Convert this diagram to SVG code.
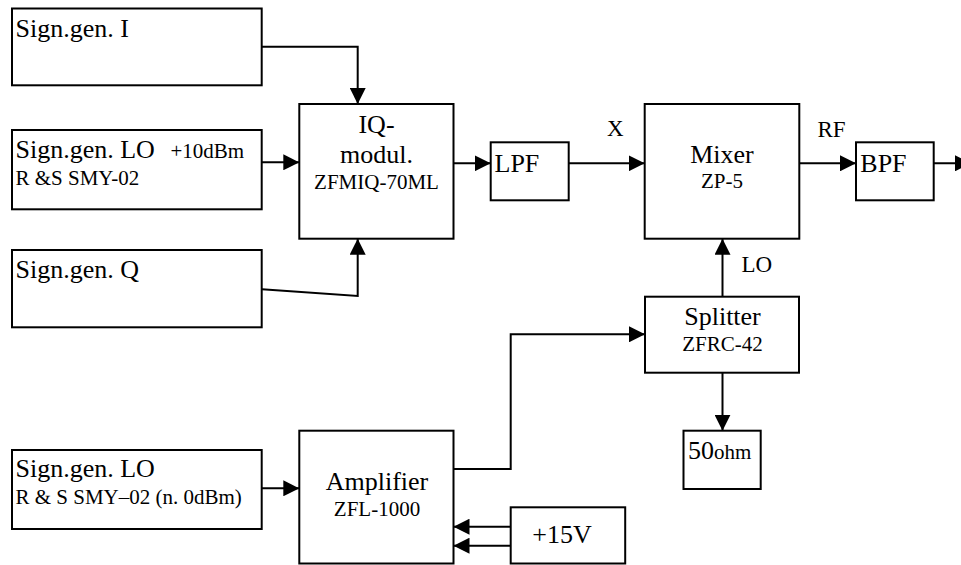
<svg xmlns="http://www.w3.org/2000/svg" width="961" height="565" viewBox="0 0 961 565" font-family="'Liberation Serif', 'DejaVu Serif', serif">
<style>
  .box { fill: #ffffff; stroke: #000000; stroke-width: 2; }
  text { font-family: 'Liberation Serif', 'DejaVu Serif', serif; fill: #000; }
  .big { font-size: 26px; }
  .sm { font-size: 21px; }
  .lbl { font-size: 23px; }
  .c { text-anchor: middle; }
  .wire { fill: none; stroke: #000; stroke-width: 2; }
</style>
<defs>
  <marker id="arr" markerUnits="userSpaceOnUse" markerWidth="16" markerHeight="16" viewBox="0 0 16 16" refX="16" refY="8" orient="auto">
    <path d="M0,0 L16,8 L0,16 z" fill="#000"/>
  </marker>
</defs>
<rect width="961" height="565" fill="#ffffff"/>

<g id="connectors">
  <polyline class="wire" points="262,46.7 357.7,46.7 357.7,104" marker-end="url(#arr)"/>
  <line class="wire" x1="262" y1="162.3" x2="299.3" y2="162.3" marker-end="url(#arr)"/>
  <polyline class="wire" points="262,289.3 357.7,296 357.7,238.7" marker-end="url(#arr)"/>
  <line class="wire" x1="453.5" y1="163.3" x2="490.7" y2="163.3" marker-end="url(#arr)"/>
  <line class="wire" x1="568.7" y1="163.3" x2="644.7" y2="163.3" marker-end="url(#arr)"/>
  <line class="wire" x1="799.3" y1="163.3" x2="856" y2="163.3" marker-end="url(#arr)"/>
  <line class="wire" x1="933.7" y1="163.3" x2="971" y2="163.3" marker-end="url(#arr)"/>
  <line class="wire" x1="722.5" y1="296.7" x2="722.5" y2="238.7" marker-end="url(#arr)"/>
  <line class="wire" x1="722.5" y1="372.7" x2="722.5" y2="430.7" marker-end="url(#arr)"/>
  <polyline class="wire" points="453.5,469 510.7,469 510.7,334.3 645,334.3" marker-end="url(#arr)"/>
  <line class="wire" x1="262" y1="488.3" x2="299.3" y2="488.3" marker-end="url(#arr)"/>
  <line class="wire" x1="510.7" y1="526.7" x2="453.5" y2="526.7" marker-end="url(#arr)"/>
  <line class="wire" x1="510.7" y1="545.7" x2="453.5" y2="545.7" marker-end="url(#arr)"/>
  <text class="lbl" x="607" y="136">X</text>
  <text class="lbl" x="817.5" y="136.5">RF</text>
  <text class="lbl" x="741.5" y="271.5">LO</text>
</g>

<g id="siggen-i">
  <rect class="box" x="12" y="8.5" width="249.7" height="76.8"/>
  <text class="big" x="15.5" y="36.7">Sign.gen. I</text>
</g>

<g id="siggen-lo">
  <rect class="box" x="12" y="130" width="249.7" height="79.3"/>
  <text class="big" x="15.5" y="158.3">Sign.gen. LO</text>
  <text class="sm" x="170.5" y="158">+10dBm</text>
  <text class="sm" x="15.5" y="185">R &amp;S SMY-02</text>
</g>

<g id="siggen-q">
  <rect class="box" x="12" y="250" width="249.7" height="77.3"/>
  <text class="big" x="15.5" y="278.3">Sign.gen. Q</text>
</g>

<g id="iq-modulator">
  <rect class="box" x="299.3" y="104" width="154.2" height="134.7"/>
  <text class="big c" x="376.5" y="132.7">IQ-</text>
  <text class="big c" x="376.5" y="163.3">modul.</text>
  <text class="sm c" x="376.5" y="189.3">ZFMIQ-70ML</text>
</g>

<g id="lpf">
  <rect class="box" x="490.7" y="142.3" width="78" height="58"/>
  <text class="big" x="494.5" y="172.3">LPF</text>
</g>

<g id="mixer">
  <rect class="box" x="644.7" y="104" width="154.6" height="134.7"/>
  <text class="big c" x="722" y="163.3">Mixer</text>
  <text class="sm c" x="722" y="188.3">ZP-5</text>
</g>

<g id="bpf">
  <rect class="box" x="856" y="142.3" width="77.7" height="58"/>
  <text class="big" x="860.3" y="172.3">BPF</text>
</g>

<g id="splitter">
  <rect class="box" x="645" y="296.7" width="154" height="76"/>
  <text class="big c" x="722.5" y="325">Splitter</text>
  <text class="sm c" x="722.5" y="351">ZFRC-42</text>
</g>

<g id="load-50ohm">
  <rect class="box" x="683.5" y="430.7" width="77.2" height="58.3"/>
  <text x="688" y="459"><tspan class="big">50</tspan><tspan class="sm">ohm</tspan></text>
</g>

<g id="siggen-lo2">
  <rect class="box" x="12" y="450" width="249.7" height="79"/>
  <text class="big" x="15.5" y="476.7">Sign.gen. LO</text>
  <text class="sm" x="15.5" y="504">R &amp; S SMY–02 (n. 0dBm)</text>
</g>

<g id="amplifier">
  <rect class="box" x="299.3" y="430.7" width="154.2" height="132.8"/>
  <text class="big c" x="377" y="490">Amplifier</text>
  <text class="sm c" x="377" y="516">ZFL-1000</text>
</g>

<g id="supply-15v">
  <rect class="box" x="510.7" y="507.3" width="114.5" height="56.2"/>
  <text class="big c" x="562" y="543.3">+15V</text>
</g>
</svg>
